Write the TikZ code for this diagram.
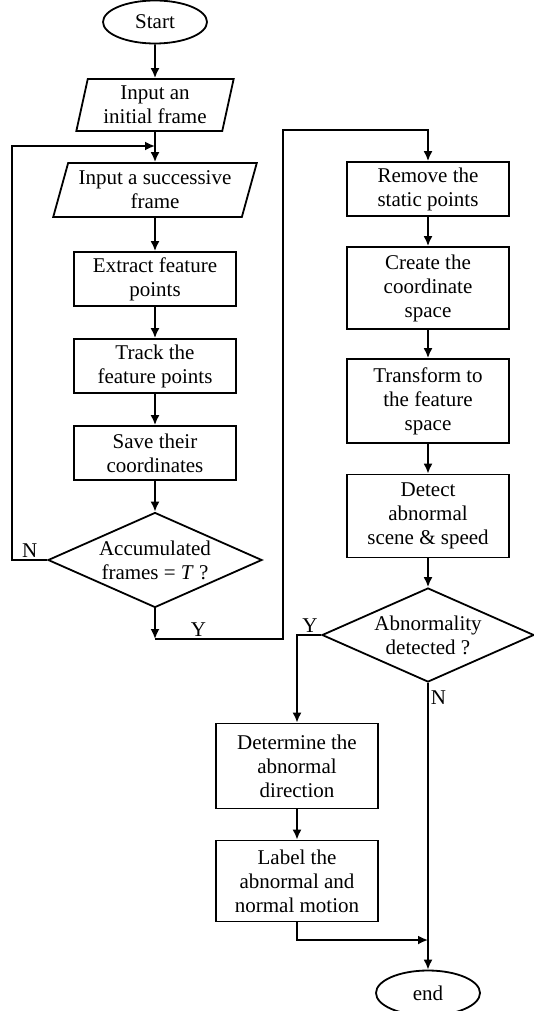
\documentclass[tikz,border=0pt]{standalone}
\usepackage{fontspec}
\setmainfont{Liberation Serif}
\usetikzlibrary{shapes.geometric,arrows.meta}
\tikzset{
  >={Latex[length=5pt,width=4.5pt]},
}
\tikzstyle{every node}=[font=\fontsize{10.5}{12}\selectfont]
\tikzstyle{flow}=[line width=.9pt,->]
\tikzstyle{terminal}=[draw,line width=.9pt,ellipse,minimum width=52pt,minimum height=21.5pt,inner sep=0pt]
\tikzstyle{io}=[draw,line width=.9pt,trapezium,trapezium stretches=true,align=center,inner sep=0pt,minimum height=26pt]
\tikzstyle{process}=[draw,line width=.9pt,rectangle,align=center,minimum width=81pt,minimum height=27pt,inner sep=0pt]
\tikzstyle{decision}=[draw,line width=.9pt,diamond,aspect=2.25,align=center,minimum width=107pt,minimum height=47.5pt,inner sep=0pt]
\tikzstyle{answer}=[inner sep=1pt]

\begin{document}
\begin{tikzpicture}[x=.5pt,y=-.5pt]
    \useasboundingbox (0,0) rectangle (534,1011);
    % left column
    \node[terminal] (start) at (155,22) {Start};
    \node[io,trapezium left angle=77,trapezium right angle=103,minimum width=79pt] (in1) at (155,105) {Input an\\initial frame};
    \node[io,trapezium left angle=71,trapezium right angle=109,minimum width=102.5pt,minimum height=27pt] (in2) at (155,190) {Input a successive\\frame};
    \node[process] (ext) at (155,279) {Extract feature\\points};
    \node[process] (trk) at (155,366) {Track the\\feature points};
    \node[process] (sav) at (155,453) {Save their\\coordinates};
    \node[decision] (acc) at (155,560) {Accumulated\\frames = \textit{T} ?};
    % right column
    \node[process] (rem) at (428,189) {Remove the\\static points};
    \node[process,minimum height=41pt] (cre) at (428,288) {Create the\\coordinate\\space};
    \node[process,minimum height=42pt] (tra) at (428,401) {Transform to\\the feature\\space};
    \node[process,minimum height=41.5pt] (det) at (428,516) {Detect\\abnormal\\scene \& speed};
    \node[decision,minimum width=106pt,minimum height=47pt] (abn) at (428,635) {Abnormality\\detected ?};
    \node[process,minimum height=42.5pt] (dir) at (297,766) {Determine the\\abnormal\\direction};
    \node[process,minimum height=40.5pt] (lab) at (297,881) {Label the\\abnormal and\\normal motion};
    \node[terminal,minimum height=22.5pt] (end) at (428,993) {end};
    % junctions
    \coordinate (jn1) at (155,146);
    \coordinate (ya) at (155,639);
    \coordinate (yb) at (283,130);
    \coordinate (jn2) at (428,940);
    % connectors
    \draw[flow] (start) -- (in1);
    \draw[flow] (in1) -- (in2);
    \draw[flow] (in2) -- (ext);
    \draw[flow] (ext) -- (trk);
    \draw[flow] (trk) -- (sav);
    \draw[flow] (sav) -- (acc);
    \draw[flow] (acc.west) -- ++(-35,0) node[answer,above,pos=.5]{N} |- (jn1);
    \draw[flow] (acc) -- (ya);
    \draw[flow] (ya) -| node[answer,above,pos=.17]{Y} (yb) -| (rem);
    \draw[flow] (rem) -- (cre);
    \draw[flow] (cre) -- (tra);
    \draw[flow] (tra) -- (det);
    \draw[flow] (det) -- (abn);
    \draw[flow] (abn.west) -| node[answer,above,pos=.23]{Y} (dir);
    \draw[flow] (abn) -- node[answer,right,pos=.05]{N} (end);
    \draw[flow] (dir) -- (lab);
    \draw[flow] (lab) |- (jn2);
\end{tikzpicture}
\end{document}
